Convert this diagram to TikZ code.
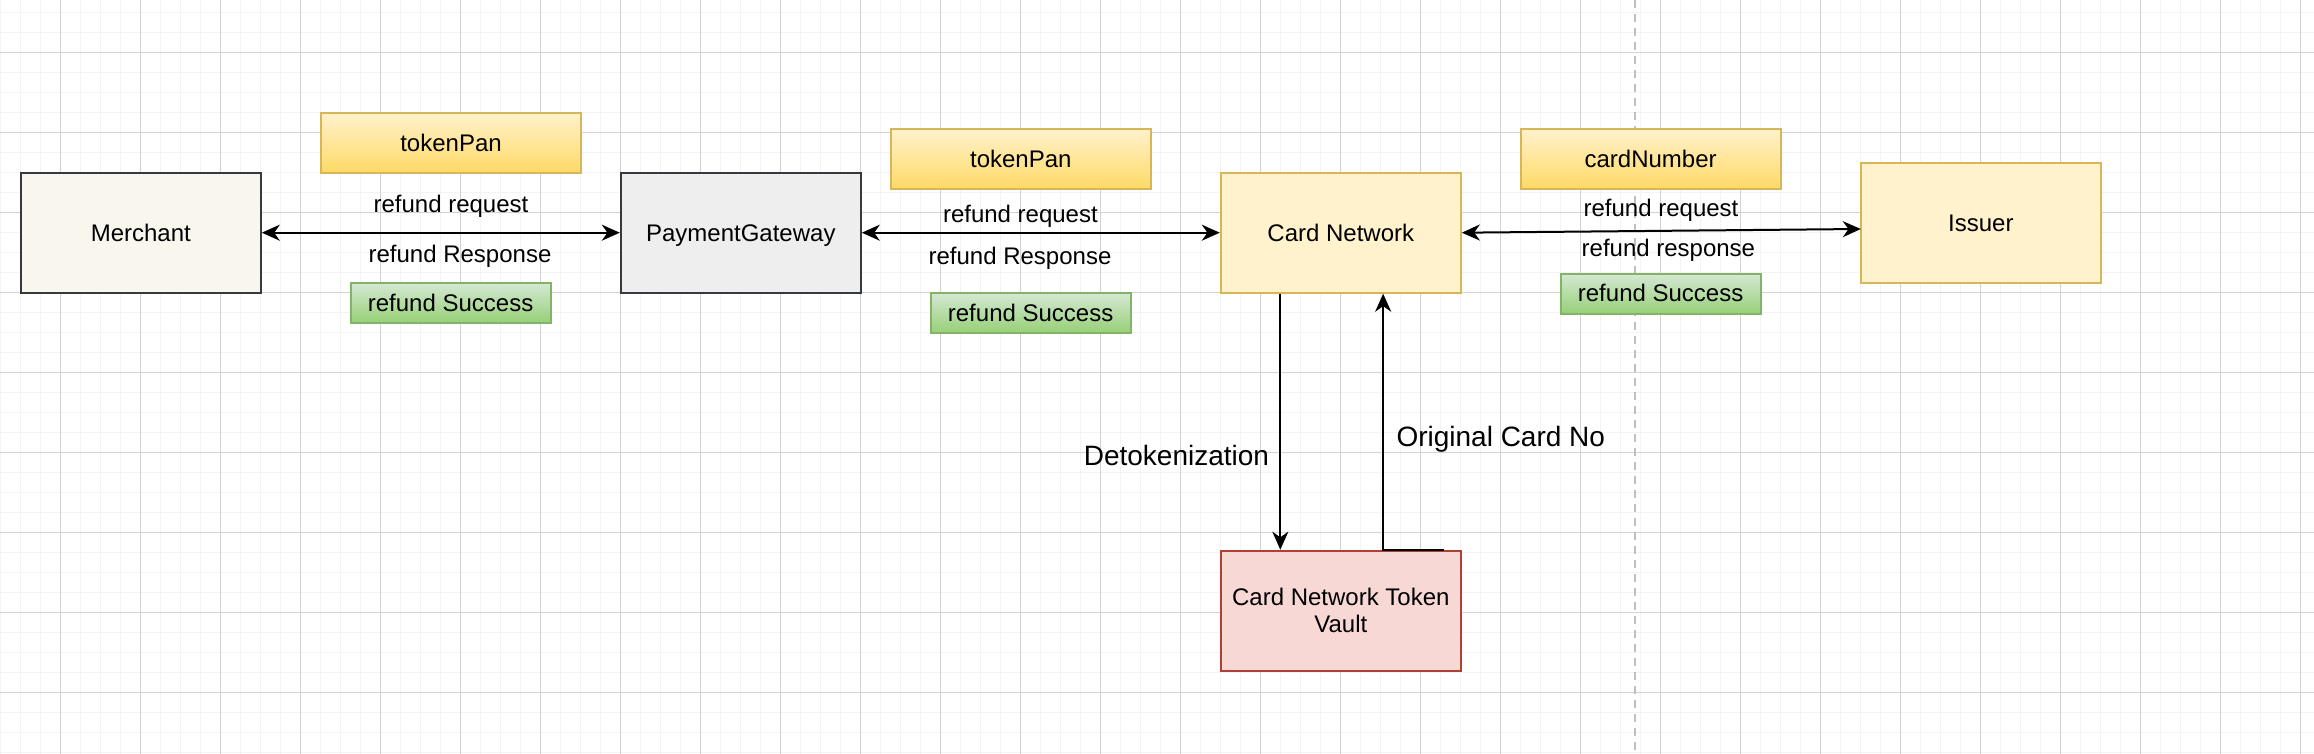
\documentclass[tikz,border=0pt]{standalone}
\usepackage{fontspec}
\setmainfont{Liberation Sans}
\usepackage{tikz}
\usetikzlibrary{arrows.meta, positioning, calc}
\definecolor{gridmin}{HTML}{F3F3F3}
\definecolor{gridmaj}{HTML}{D2D2D2}
\definecolor{ylwfill}{HTML}{FFF2CC}
\definecolor{ylwdark}{HTML}{FFD966}
\definecolor{ylwline}{HTML}{D6B656}
\definecolor{grnlight}{HTML}{D5E8D4}
\definecolor{grndark}{HTML}{97D077}
\definecolor{grnline}{HTML}{82B366}
\definecolor{redfill}{HTML}{F7D8D4}
\definecolor{redline}{HTML}{AE4132}
\definecolor{darkline}{HTML}{36393D}
\definecolor{merfill}{HTML}{F9F7ED}
\definecolor{pgfill}{HTML}{EEEEEE}

\begin{document}
\begin{tikzpicture}[x=1pt, y=-1pt, >={Stealth[length=9pt,width=8pt,inset=2.8pt]},
    line width=1pt, font=\fontsize{12}{14.4}\selectfont,
    txt/.style={text height=10.86pt, text depth=2.54pt},
    box/.style={draw, minimum width=120pt, minimum height=60pt, inner sep=0pt, align=center},
    tag/.style={txt, draw=ylwline, top color=ylwfill, bottom color=ylwdark,
        minimum width=130pt, minimum height=30pt, inner sep=0pt},
    okbox/.style={txt, draw=grnline, top color=grnlight, bottom color=grndark,
        minimum width=100pt, minimum height=20pt, inner sep=0pt},
    lbl/.style={txt, inner sep=0pt},
    biglbl/.style={inner sep=0pt, text height=12.67pt, text depth=2.97pt,
        font=\fontsize{14}{16.8}\selectfont}]
    % canvas and grid
    \fill[white] (0,0) rectangle (1157,377);
    \useasboundingbox (0,0) rectangle (1157,377);
    \foreach \gx in {0,10,...,1150}
        \draw[gridmin, line width=0.7pt] (\gx+0.2,0) -- (\gx+0.2,377);
    \foreach \gy in {0,10,...,370}
        \draw[gridmin, line width=0.7pt] (0,\gy+6.2) -- (1157,\gy+6.2);
    \foreach \gx in {30,70,...,1150}
        \draw[gridmaj, line width=0.5pt] (\gx+0.2,0) -- (\gx+0.2,377);
    \foreach \gy in {20,60,...,370}
        \draw[gridmaj, line width=0.5pt] (0,\gy+6.2) -- (1157,\gy+6.2);
    \draw[black!25, line width=0.8pt, dash pattern=on 4pt off 3pt] (817.5,0) -- (817.5,377);

    % main boxes
    \node[box, txt, fill=merfill, draw=darkline] (merchant) at (70.4,116.35) {Merchant};
    \node[box, txt, fill=pgfill, draw=darkline] (pg) at (370.4,116.35) {PaymentGateway};
    \node[box, txt, fill=ylwfill, draw=ylwline] (cn) at (670.4,116.35) {Card Network};
    \node[box, txt, fill=ylwfill, draw=ylwline] (issuer) at (990.4,111.35) {Issuer};
    \node[box, fill=redfill, draw=redline, font=\fontsize{12}{13.7}\selectfont]
        (vault) at (670.4,305.35) {Card Network Token\\Vault};

    % data tags
    \node[tag] (tok1) at (225.5,71.35) {tokenPan};
    \node[tag] (tok2) at (510.4,79.5) {tokenPan};
    \node[tag] (cardno) at (825.3,79.5) {cardNumber};
    \node[okbox] (ok1) at (225.3,151.35) {refund Success};
    \node[okbox] (ok2) at (515.3,156.35) {refund Success};
    \node[okbox] (ok3) at (830.3,146.8) {refund Success};

    % edge texts
    \node[lbl] (req1) at (225.5,102) {refund request};
    \node[lbl] (resp1) at (230,127) {refund Response};
    \node[lbl] (req2) at (510.2,107.2) {refund request};
    \node[lbl] (resp2) at (510,128) {refund Response};
    \node[lbl] (req3) at (830.5,104.2) {refund request};
    \node[lbl] (resp3) at (834.2,124.2) {refund response};
    \node[biglbl] (detok) at (588.2,228) {Detokenization};
    \node[biglbl] (orig) at (750.4,218.4) {Original Card No};

    % connectors
    \coordinate (issin) at (930.4,114.5);
    \coordinate (cnout) at ($(cn.south west)!0.25!(cn.south east)$);
    \coordinate (vltin) at ($(vault.north west)!0.25!(vault.north east)$);
    \coordinate (vltout) at ($(vault.north west)!0.925!(vault.north east)$);
    \coordinate (vltup) at ($(vault.north west)!0.675!(vault.north east)$);
    \coordinate (cnin) at ($(cn.south west)!0.675!(cn.south east)$);
    \draw[<->] (merchant) -- (pg);
    \draw[<->] (pg) -- (cn);
    \draw[<->] (cn.east) -- (issin);
    \draw[->] (cnout) -- (vltin);
    \draw[->] (vltout) -- (vltup) -- (cnin);
\end{tikzpicture}
\end{document}
